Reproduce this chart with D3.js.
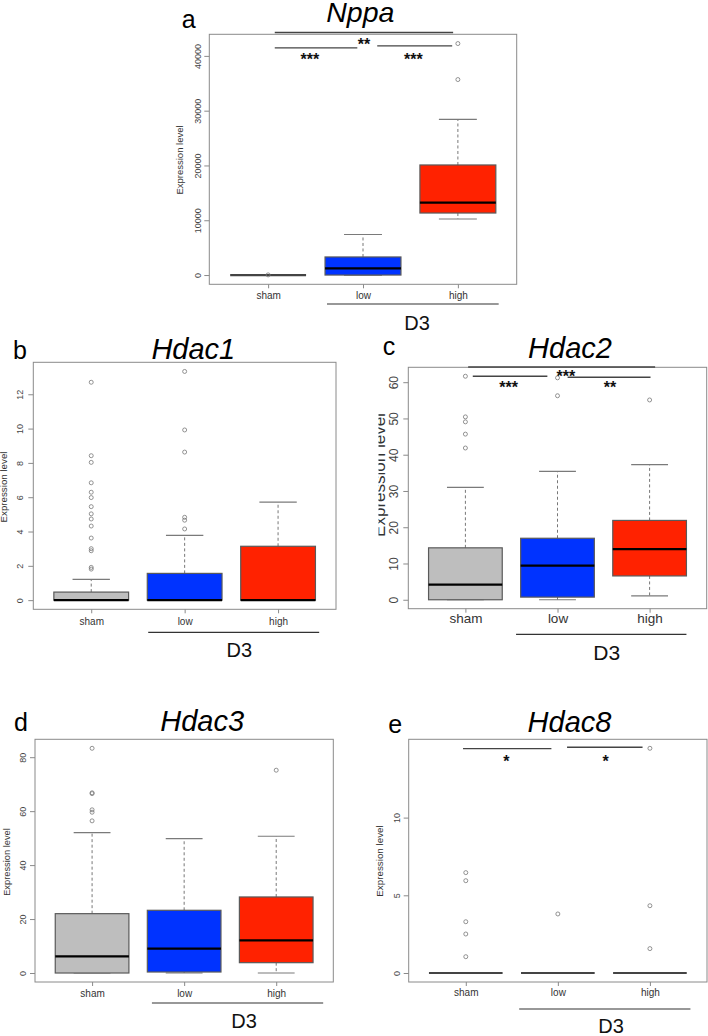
<!DOCTYPE html>
<html><head><meta charset="utf-8">
<script src="https://cdn.jsdelivr.net/npm/d3@7"></script>
<style>body{margin:0;background:#fff}svg{display:block}</style>
</head><body>
<script>
// ---------- DATA ----------
const categories = ["sham", "low", "high"];
const groupLabel = "D3";
const yAxisTitle = "Expression level";

// stats per group: [lower whisker, q1, median, q3, upper whisker]
const nppaStats  = [[0,0,0,0,0],[0,0,1200,3300,7400],[10230,11320,13210,20090,28430]];
const nppaOut    = [[30],[],[35680,42250]];
const nppaTicks  = [0,10000,20000,30000,40000];
const nppaSig    = [
  {x1:1.07,x2:2.95,y:44274,lx:2.01,ly:42867,label:"**"},
  {x1:1.07,x2:1.94,y:41461,lx:1.44,ly:40128,label:"***"},
  {x1:2.15,x2:2.94,y:41826,lx:2.53,ly:40128,label:"***"}];

const hdac1Stats = [[0,0,0,0.47,1.21],[0,0,0,1.56,3.78],[0,0,0,3.14,5.71]];
const hdac1Out   = [[12.70,8.42,8.03,6.84,6.29,5.98,5.45,5.03,4.73,4.32,3.62,3.00,2.88,1.91,1.81],
                    [4.15,4.66,4.83,8.63,9.92,13.33],[]];
const hdac1Ticks = [0,2,4,6,8,10,12];
const hdac1Sig   = [];

const hdac2Stats = [[0,0,4.19,14.32,31.0],[0,0.73,9.39,16.96,35.38],[1.09,6.57,13.95,21.88,37.29]];
const hdac2Out   = [[41.85,45.68,49.06,50.43,61.64],[56.26,61.2],[55.1]];
const hdac2Ticks = [0,10,20,30,40,50,60];
const hdac2Sig   = [
  {x1:1.03,x2:3.06,y:64.18,lx:2.09,ly:62.62,label:"***"},
  {x1:1.08,x2:1.89,y:61.63,lx:1.47,ly:59.61,label:"***"},
  {x1:2.11,x2:3.01,y:61.36,lx:2.57,ly:59.61,label:"**"}];

const hdac3Stats = [[0,0,6.18,22.0,52.06],[0,0.37,9.03,23.25,49.83],[0,3.83,12.12,28.19,50.7]];
const hdac3Out   = [[56.4,59.6,60.5,66.5,66.8,83.3],[],[75.18]];
const hdac3Ticks = [0,20,40,60,80];
const hdac3Sig   = [];

const hdac8Stats = [[0,0,0,0,0],[0,0,0,0,0],[0,0,0,0,0]];
const hdac8Out   = [[6.46,5.94,3.30,2.51,1.05],[3.80],[14.46,4.33,1.57]];
const hdac8Ticks = [0,5,10];
const hdac8Sig   = [
  {x1:0.97,x2:1.93,y:14.44,lx:1.44,ly:13.89,label:"*"},
  {x1:2.10,x2:2.92,y:14.53,lx:2.52,ly:13.89,label:"*"}];

// ---------- LAYOUT ----------
const panels = [
  {letter:"a", gene:"Nppa",  stats:nppaStats,  outs:nppaOut,  ticks:nppaTicks,  sig:nppaSig,
   box:[209.3,34.3,516.7,284.3], title:[360.3,22], titleFs:28.5, let:[181.7,28.3],
   tickFs:9, catFs:10, catDy:14.5, ytFs:9.5, ytX:183, ytY:160, tickLblOff:8.6,
   ul:[1.62,3.43,304], d3:[417,330,20]},
  {letter:"b", gene:"Hdac1", stats:hdac1Stats, outs:hdac1Out, ticks:hdac1Ticks, sig:hdac1Sig,
   box:[33.3,362.3,336,609.3], title:[193.3,359.3], titleFs:29, let:[13,359.3],
   tickFs:9, catFs:10, catDy:15.7, ytFs:9.75, ytX:7, ytY:487, tickLblOff:10,
   ul:[1.61,3.44,632.3], d3:[239.3,657.3,20]},
  {letter:"c", gene:"Hdac2", stats:hdac2Stats, outs:hdac2Out, ticks:hdac2Ticks, sig:hdac2Sig,
   box:[408.3,367.3,706.7,608.7], title:[570,358.3], titleFs:29, let:[382.7,355],
   tickFs:12, catFs:13.5, catDy:14.6, ytFs:17, ytX:385, ytY:475, tickLblOff:10, clipX:378.5,
   ul:[1.55,3.40,634.3], d3:[606.7,660,21]},
  {letter:"d", gene:"Hdac3", stats:hdac3Stats, outs:hdac3Out, ticks:hdac3Ticks, sig:hdac3Sig,
   box:[35,739.3,333.3,982], title:[202.2,730.7], titleFs:29, let:[14,730.7],
   tickFs:9, catFs:10, catDy:14.7, ytFs:9.3, ytX:9.5, ytY:862, tickLblOff:9,
   ul:[1.65,3.51,1003], d3:[244,1028,20]},
  {letter:"e", gene:"Hdac8", stats:hdac8Stats, outs:hdac8Out, ticks:hdac8Ticks, sig:hdac8Sig,
   box:[408.7,739.3,707,982], title:[569.5,731.7], titleFs:29, let:[388.3,733.3],
   tickFs:9, catFs:10, catDy:14, ytFs:9.8, ytX:383, ytY:861, tickLblOff:8.7,
   ul:[1.58,3.44,1009], d3:[611,1033,20]}
];

const fillColors = ["#bebebe", "#0033ff", "#ff2200"];
const FONT = "'Liberation Sans', Arial, Helvetica, sans-serif";

const svg = d3.select("body").append("svg")
  .attr("width", 708).attr("height", 1036)
  .style("font-family", FONT);

panels.forEach((p, pi) => {
  const [L, T, R, B] = p.box;
  const allVals = p.stats.flat().concat(p.outs.flat());
  const lo = d3.min(allVals), hi = d3.max(allVals);
  const ext = (hi - lo) * 0.04;
  const y = d3.scaleLinear().domain([lo - ext, hi + ext]).range([B, T]);
  const x = d3.scaleLinear().domain([0.38, 3.62]).range([L, R]);
  const g = svg.append("g");

  // frame
  g.append("rect").attr("x", L).attr("y", T).attr("width", R - L).attr("height", B - T)
    .attr("fill", "none").attr("stroke", "#8a8a8a").attr("stroke-width", 1);

  // y axis
  const ya = g.append("g").attr("transform", `translate(${L},0)`)
    .call(d3.axisLeft(y).tickValues(p.ticks).tickSize(5).tickFormat(d3.format("d")));
  ya.select(".domain").remove();
  ya.selectAll(".tick line").attr("stroke", "#8a8a8a");
  ya.selectAll(".tick text")
    .attr("transform", "rotate(-90)").attr("x", 0).attr("y", -p.tickLblOff).attr("dy", 0)
    .attr("text-anchor", "middle").attr("fill", "#444")
    .style("font-size", p.tickFs + "px").style("font-family", FONT);

  // x axis
  const xa = g.append("g").attr("transform", `translate(0,${B})`)
    .call(d3.axisBottom(x).tickValues([1,2,3]).tickSize(4).tickFormat(d => categories[d - 1]));
  xa.select(".domain").remove();
  xa.selectAll(".tick line").attr("stroke", "#8a8a8a");
  xa.selectAll(".tick text").attr("y", p.catDy).attr("dy", 0).attr("fill", "#333")
    .style("font-size", p.catFs + "px").style("font-family", FONT);

  // y-axis title
  const ytParent = (p.clipX !== undefined)
    ? (() => {
        const cid = "clip" + pi;
        svg.append("clipPath").attr("id", cid).append("rect")
          .attr("x", p.clipX).attr("y", 0).attr("width", 400).attr("height", 1036);
        return g.append("g").attr("clip-path", `url(#${cid})`);
      })()
    : g;
  ytParent.append("text").attr("transform", `translate(${p.ytX},${p.ytY}) rotate(-90)`)
    .attr("text-anchor", "middle").attr("fill", "#333")
    .style("font-size", p.ytFs + "px").text(yAxisTitle);

  // boxes
  const hw = (x(1.4) - x(1)), sw = (x(1.2) - x(1));
  p.stats.forEach((s, i) => {
    const cx = x(i + 1);
    const [wl, q1, md, q3, wu] = s;
    const bg = g.append("g");
    bg.append("line").attr("x1", cx).attr("x2", cx).attr("y1", y(q3)).attr("y2", y(wu))
      .attr("stroke", "#777").attr("stroke-dasharray", "3,2.5").attr("stroke-width", 1);
    bg.append("line").attr("x1", cx).attr("x2", cx).attr("y1", y(q1)).attr("y2", y(wl))
      .attr("stroke", "#777").attr("stroke-dasharray", "3,2.5").attr("stroke-width", 1);
    [wu, wl].forEach(v => bg.append("line").attr("x1", cx - sw).attr("x2", cx + sw)
      .attr("y1", y(v)).attr("y2", y(v)).attr("stroke", "#7a7a7a").attr("stroke-width", 1.2));
    bg.append("rect").attr("x", cx - hw).attr("width", 2 * hw)
      .attr("y", y(q3)).attr("height", Math.max(0, y(q1) - y(q3)))
      .attr("fill", fillColors[i]).attr("stroke", "#5a5a5a").attr("stroke-width", 1.2);
    bg.append("line").attr("x1", cx - hw).attr("x2", cx + hw).attr("y1", y(md)).attr("y2", y(md))
      .attr("stroke", q1 === q3 ? "#444" : "#000").attr("stroke-width", 2.2);
    p.outs[i].forEach(v => bg.append("circle").attr("cx", cx).attr("cy", y(v)).attr("r", 2)
      .attr("fill", "none").attr("stroke", "#777").attr("stroke-width", 0.8));
  });

  // significance
  p.sig.forEach(s => {
    g.append("line").attr("x1", x(s.x1)).attr("x2", x(s.x2)).attr("y1", y(s.y)).attr("y2", y(s.y))
      .attr("stroke", "#444").attr("stroke-width", 1.4);
    g.append("text").attr("x", x(s.lx)).attr("y", y(s.ly) + 16 * 0.59)
      .attr("text-anchor", "middle").attr("fill", "#111").style("font-size", "16px")
      .style("font-weight", "bold").text(s.label);
  });

  // group underline and label
  g.append("line").attr("x1", x(p.ul[0])).attr("x2", x(p.ul[1])).attr("y1", p.ul[2]).attr("y2", p.ul[2])
    .attr("stroke", "#333").attr("stroke-width", 1.2);
  g.append("text").attr("x", p.d3[0]).attr("y", p.d3[1]).attr("text-anchor", "middle")
    .attr("fill", "#111").style("font-size", p.d3[2] + "px").text(groupLabel);

  // title + letter
  g.append("text").attr("x", p.title[0]).attr("y", p.title[1]).attr("text-anchor", "middle")
    .style("font-size", p.titleFs + "px").style("font-style", "italic").attr("fill", "#000").text(p.gene);
  g.append("text").attr("x", p.let[0]).attr("y", p.let[1])
    .style("font-size", "25px").attr("fill", "#000").text(p.letter);
});
</script>
</body></html>
